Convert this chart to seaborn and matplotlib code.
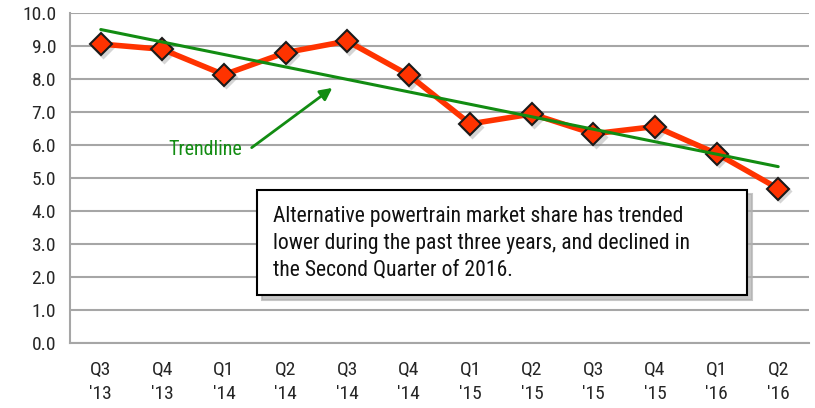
import matplotlib.pyplot as plt
import matplotlib.patches as mpatches
import matplotlib.transforms as mtrans
import pandas as pd
import seaborn as sns
import numpy as np
sns.set_style("white")
plt.rcParams['font.family'] = ['Roboto Condensed', 'Roboto', 'DejaVu Sans']

quarters = ["Q3\n'13", "Q4\n'13", "Q1\n'14", "Q2\n'14", "Q3\n'14", "Q4\n'14",
            "Q1\n'15", "Q2\n'15", "Q3\n'15", "Q4\n'15", "Q1\n'16", "Q2\n'16"]
share = [9.06, 8.9, 8.13, 8.8, 9.15, 8.12, 6.64, 6.94, 6.34, 6.56, 5.74, 4.68]
y_ticks = [0, 1, 2, 3, 4, 5, 6, 7, 8, 9, 10]
note = ("Alternative powertrain market share has trended\n"
        "lower during the past three years, and declined in\n"
        "the Second Quarter of 2016.")

df = pd.DataFrame({"pos": np.arange(len(quarters)), "share": share})

fig = plt.figure(figsize=(8.15, 4.08), dpi=100)
ax = fig.add_axes([70/815, 1-343/408, (809-70)/815, 330/408])

for t in y_ticks:
    ax.axhline(t, color="#a6a6a6", lw=1.5, zorder=0)

# trendline = linear fit of the series
slope, icpt = np.polyfit(df["pos"], df["share"], 1)
ax.plot([0, len(quarters)-1], [icpt, icpt + slope*(len(quarters)-1)],
        color="#128c12", lw=2.2, zorder=4)

# soft marker shadows
shadow_tr = mtrans.offset_copy(ax.transData, fig=fig, x=1.5, y=-2, units="points")
ax.plot(df["pos"], df["share"], "D", ms=12, color="#888888", alpha=0.35,
        mec="none", transform=shadow_tr, zorder=2.5)

sns.lineplot(data=df, x="pos", y="share", color="#ff3300", lw=4, marker="D",
             markersize=11.5, markerfacecolor="#ff3300", markeredgecolor="#1a1a1a",
             markeredgewidth=1.5, ax=ax, zorder=3)

ax.set_xlim(-0.5, len(quarters)-0.5)
ax.set_ylim(0, 10)
ax.set_yticks(y_ticks)
ax.set_yticklabels([f"{t:.1f}" for t in y_ticks], fontsize=14)
ax.set_xticks(df["pos"])
ax.set_xticklabels(quarters, fontsize=14, linespacing=1.45)
ax.set_xticks(np.arange(-0.5, len(quarters)), minor=True)
ax.tick_params(axis="x", which="major", length=0, pad=13)
ax.tick_params(axis="x", which="minor", length=6, color="#a6a6a6", width=1.5, direction="out")
ax.tick_params(axis="y", length=6, color="#a6a6a6", width=1.5, direction="out", pad=4)
ax.set_xlabel("")
ax.set_ylabel("")
for s in ["top", "right"]:
    ax.spines[s].set_visible(False)
for s in ["left", "bottom"]:
    ax.spines[s].set_color("#a6a6a6")
    ax.spines[s].set_linewidth(1.5)

# note box
box = mpatches.Rectangle((2.53, 1.45), 10.49-2.53, 4.64-1.45, facecolor="white",
                         edgecolor="black", lw=1.5, zorder=5)
shadow = mpatches.Shadow(box, 0.06, -0.1, color="#b0b0b0", alpha=0.7, zorder=4.9)
ax.add_patch(shadow)
ax.add_patch(box)
ax.text(2.8, 3.02, note, fontsize=15.6, va="center", ha="left", linespacing=1.38,
        zorder=6, color="#111111")

ax.text(1.7, 5.85, "Trendline", color="#128c12", fontsize=14.5, ha="center", va="center")
ax.annotate("", xy=(3.76, 7.73), xytext=(2.45, 5.92),
            arrowprops=dict(arrowstyle="-|>", color="#128c12", lw=2,
                            mutation_scale=18, shrinkA=0, shrinkB=0))

plt.savefig("out.png", dpi=100)
